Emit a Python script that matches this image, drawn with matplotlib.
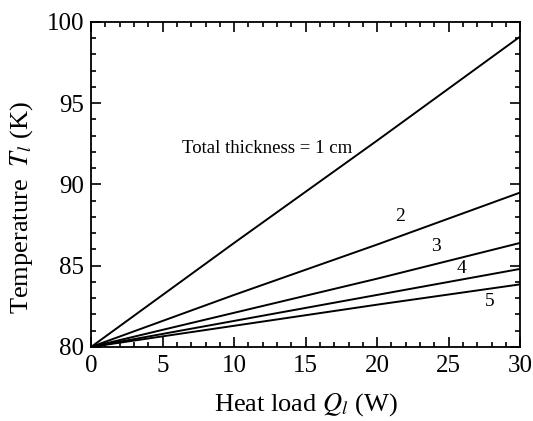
import matplotlib
matplotlib.use('Agg')
import matplotlib.pyplot as plt
from matplotlib.ticker import MultipleLocator

plt.rcParams['font.family'] = ['Liberation Serif', 'DejaVu Serif']
plt.rcParams['mathtext.fontset'] = 'stix'

# heat load (W) and temperature (K) per total thickness
heat_load = [0, 10, 20, 30]
temp_1cm = [80.0, 86.4, 92.7, 99.1]
temp_2cm = [80.0, 83.2, 86.3, 89.5]
temp_3cm = [80.0, 82.1, 84.2, 86.4]
temp_4cm = [80.0, 81.6, 83.2, 84.8]
temp_5cm = [80.0, 81.3, 82.6, 83.85]

curves = [temp_1cm, temp_2cm, temp_3cm, temp_4cm, temp_5cm]
labels = ['Total thickness = 1 cm', '2', '3', '4', '5']
label_pos = [(12.3, 92.2), (21.6, 88.0), (24.1, 86.15), (25.9, 84.85), (27.9, 82.8)]

fig = plt.figure(figsize=(5.33, 4.21), dpi=100)
ax = fig.add_axes([0.171, 0.176, 0.805, 0.772])

for temps in curves:
    ax.plot(heat_load, temps, color='black', lw=1.4)

for i, (txt, (x, y)) in enumerate(zip(labels, label_pos)):
    ax.text(x, y, txt, ha='center', va='center', fontsize=13.5 if i == 0 else 14)

ax.set_xlim(0, 30)
ax.set_ylim(80, 100)
ax.xaxis.set_major_locator(MultipleLocator(5))
ax.xaxis.set_minor_locator(MultipleLocator(1))
ax.yaxis.set_major_locator(MultipleLocator(5))
ax.yaxis.set_minor_locator(MultipleLocator(1))
ax.tick_params(which='both', direction='in', top=True, right=True, labelsize=18, width=1.2)
ax.tick_params(which='major', length=7)
ax.tick_params(axis='x', which='major', pad=6)
ax.tick_params(axis='y', which='major', pad=5)
ax.tick_params(which='minor', length=3.5)
for s in ax.spines.values():
    s.set_linewidth(1.3)

ax.set_xlabel('Heat load $Q_l$ (W)', fontsize=19, labelpad=10)
ax.set_ylabel('Temperature  $T_l$ (K)', fontsize=19)
ax.yaxis.set_label_coords(-0.13, 0.43)

fig.savefig('out.png', dpi=100)
